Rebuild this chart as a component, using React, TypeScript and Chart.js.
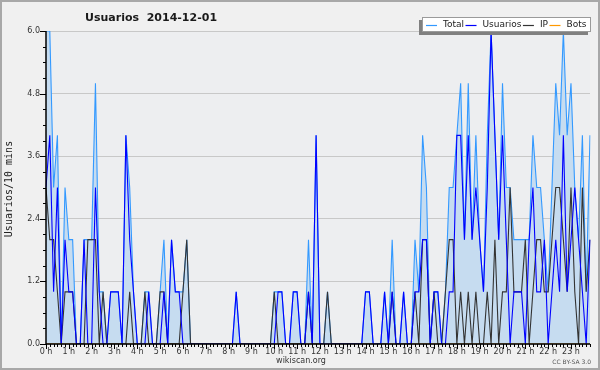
import React, { useEffect, useRef } from "react";
import { Chart, registerables } from "chart.js";

Chart.register(...registerables);

const TITLE = "Usuarios  2014-12-01";
const Y_TITLE = "Usuarios/10 mins";
const X_TITLE = "wikiscan.org";
const LICENSE = "CC BY-SA 3.0";

const HOUR_LABELS = [
  "0 h", "1 h", "2 h", "3 h", "4 h", "5 h", "6 h", "7 h", "8 h", "9 h", "10 h", "11 h",
  "12 h", "13 h", "14 h", "15 h", "16 h", "17 h", "18 h", "19 h", "20 h", "21 h", "22 h", "23 h",
];
const SLOTS_PER_HOUR = 6;

// one category per 10-minute slot
const CATEGORIES: string[] = [];
HOUR_LABELS.forEach((h, hi) => {
  for (let m = 0; m < SLOTS_PER_HOUR; m++) CATEGORIES.push(`${hi}:${m}0`);
});

const TOTAL = [
  6, 6, 3, 4, 0, 3, 2, 2, 0, 0, 2, 2,
  2, 5, 1, 1, 0, 1, 1, 1, 0, 4, 3, 1,
  0, 0, 1, 1, 0, 0, 1, 2, 0, 2, 1, 1,
  1, 2, 0, 0, 0, 0, 0, 0, 0, 0, 0, 0,
  0, 0, 1, 0, 0, 0, 0, 0, 0, 0, 0, 0,
  1, 1, 1, 0, 0, 1, 1, 0, 0, 2, 0, 4,
  0, 0, 1, 0, 0, 0, 0, 0, 0, 0, 0, 0,
  1, 1, 0, 0, 0, 1, 0, 2, 0, 0, 1, 0,
  0, 2, 1, 4, 3, 0, 1, 1, 0, 1, 3, 3,
  4, 5, 2, 5, 2, 4, 2, 1, 4, 6, 4, 2,
  5, 3, 3, 2, 2, 2, 2, 2, 4, 3, 3, 2,
  1, 3, 5, 4, 6, 4, 5, 3, 2, 4, 1, 4,
];

const USUARIOS = [
  3, 4, 1, 3, 0, 2, 1, 1, 0, 0, 2, 0,
  0, 3, 1, 0, 0, 1, 1, 1, 0, 4, 2, 1,
  0, 0, 0, 1, 0, 0, 0, 1, 0, 2, 1, 1,
  0, 0, 0, 0, 0, 0, 0, 0, 0, 0, 0, 0,
  0, 0, 1, 0, 0, 0, 0, 0, 0, 0, 0, 0,
  0, 1, 1, 0, 0, 1, 1, 0, 0, 1, 0, 4,
  0, 0, 0, 0, 0, 0, 0, 0, 0, 0, 0, 0,
  1, 1, 0, 0, 0, 1, 0, 1, 0, 0, 1, 0,
  0, 1, 1, 2, 2, 0, 1, 1, 0, 0, 1, 1,
  4, 4, 2, 4, 2, 3, 2, 1, 3, 6, 4, 2,
  4, 2, 0, 1, 1, 1, 0, 2, 3, 1, 1, 2,
  0, 1, 2, 1, 4, 1, 2, 3, 2, 1, 0, 2,
];

const IP = [
  3, 2, 2, 1, 0, 1, 1, 1, 0, 0, 0, 2,
  2, 2, 0, 1, 0, 0, 0, 0, 0, 0, 1, 0,
  0, 0, 1, 0, 0, 0, 1, 1, 0, 0, 0, 0,
  1, 2, 0, 0, 0, 0, 0, 0, 0, 0, 0, 0,
  0, 0, 0, 0, 0, 0, 0, 0, 0, 0, 0, 0,
  1, 0, 0, 0, 0, 0, 0, 0, 0, 1, 0, 0,
  0, 0, 1, 0, 0, 0, 0, 0, 0, 0, 0, 0,
  0, 0, 0, 0, 0, 0, 0, 1, 0, 0, 0, 0,
  0, 1, 0, 2, 2, 0, 1, 0, 0, 1, 2, 2,
  0, 1, 0, 1, 0, 1, 0, 0, 1, 0, 2, 0,
  1, 1, 3, 1, 1, 1, 2, 0, 1, 2, 2, 1,
  1, 2, 3, 3, 2, 1, 3, 1, 0, 3, 1, 2,
];

const BOTS = [
  0, 0, 0, 0, 0, 0, 0, 0, 0, 0, 0, 0,
  0, 0, 0, 0, 0, 0, 0, 0, 0, 0, 0, 0,
  0, 0, 0, 0, 0, 0, 0, 0, 0, 0, 0, 0,
  0, 0, 0, 0, 0, 0, 0, 0, 0, 0, 0, 0,
  0, 0, 0, 0, 0, 0, 0, 0, 0, 0, 0, 0,
  0, 0, 0, 0, 0, 0, 0, 0, 0, 0, 0, 0,
  0, 0, 0, 0, 0, 0, 0, 0, 0, 0, 0, 0,
  0, 0, 0, 0, 0, 0, 0, 0, 0, 0, 0, 0,
  0, 0, 0, 0, 0, 0, 0, 0, 0, 0, 0, 0,
  0, 0, 0, 0, 0, 0, 0, 0, 0, 0, 0, 0,
  0, 0, 0, 0, 0, 0, 0, 0, 0, 0, 0, 0,
  0, 0, 0, 0, 0, 0, 0, 0, 0, 0, 0, 0,
];

const Y_TICKS = [0, 1.2, 2.4, 3.6, 4.8, 6.0];
const Y_MAX = 6;
const Y_MINOR_STEP = 0.3;

const FONT = "'DejaVu Sans', 'Liberation Sans', sans-serif";

const decorPlugin = {
  id: "decor",
  beforeDraw(chart: any) {
    const { ctx, chartArea: a, width, height } = chart;
    ctx.save();
    ctx.fillStyle = "#f0f0f0";
    ctx.fillRect(0, 0, width, height);
    ctx.fillStyle = "#edeef0";
    ctx.fillRect(a.left, a.top, a.right - a.left, a.bottom - a.top);
    ctx.strokeStyle = "#a8a8a8";
    ctx.lineWidth = 2;
    ctx.strokeRect(1, 1, width - 2, height - 2);
    ctx.restore();
  },
  afterDraw(chart: any) {
    const { ctx, chartArea: a, scales } = chart;
    const xs = scales.x;
    const ys = scales.y;
    ctx.save();

    // axis lines
    ctx.strokeStyle = "#000";
    ctx.lineWidth = 1.5;
    ctx.beginPath();
    ctx.moveTo(a.left, a.top);
    ctx.lineTo(a.left, a.bottom);
    ctx.lineTo(a.right, a.bottom);
    ctx.stroke();

    // y ticks (major at labels, minor between)
    ctx.lineWidth = 1;
    const nMinor = Math.round(Y_MAX / Y_MINOR_STEP);
    for (let k = 0; k <= nMinor; k++) {
      const v = k * Y_MINOR_STEP;
      const py = Math.round(ys.getPixelForValue(v)) + 0.5;
      const major = k % 4 === 0;
      ctx.beginPath();
      ctx.moveTo(a.left - (major ? 6 : 3), py);
      ctx.lineTo(a.left, py);
      ctx.stroke();
    }
    // x ticks every 10 minutes, longer at hours
    for (let i = 0; i < CATEGORIES.length; i++) {
      const px = Math.round(xs.getPixelForValue(i)) + 0.5;
      const major = i % SLOTS_PER_HOUR === 0;
      ctx.beginPath();
      ctx.moveTo(px, a.bottom);
      ctx.lineTo(px, a.bottom + (major ? 5 : 3));
      ctx.stroke();
    }

    // title
    ctx.fillStyle = "#1a1a1a";
    ctx.font = `bold 11px ${FONT}`;
    ctx.textAlign = "left";
    ctx.textBaseline = "alphabetic";
    ctx.fillText(TITLE, 85, 21);

    // y title
    ctx.save();
    ctx.translate(9, 189);
    ctx.rotate(-Math.PI / 2);
    ctx.font = "10px 'DejaVu Sans Mono', monospace";
    ctx.textAlign = "center";
    ctx.textBaseline = "middle";
    ctx.fillStyle = "#222";
    ctx.fillText(Y_TITLE, 0, 0);
    ctx.restore();

    // x title and license
    ctx.fillStyle = "#333";
    ctx.font = `8px ${FONT}`;
    ctx.textAlign = "center";
    ctx.textBaseline = "middle";
    ctx.fillText(X_TITLE, 301, 361);
    ctx.font = `6px ${FONT}`;
    ctx.textAlign = "right";
    ctx.fillStyle = "#555";
    ctx.fillText(LICENSE, 591, 362.5);

    // legend
    const bx = 422, by = 17, bw = 169, bh = 15;
    ctx.fillStyle = "#808080";
    ctx.fillRect(bx - 3, by + 3, bw, bh);
    ctx.fillStyle = "#ffffff";
    ctx.fillRect(bx, by, bw, bh);
    ctx.strokeStyle = "#9a9a9a";
    ctx.lineWidth = 1;
    ctx.strokeRect(bx + 0.5, by + 0.5, bw - 1, bh - 1);
    ctx.font = `9px ${FONT}`;
    ctx.textAlign = "left";
    ctx.textBaseline = "middle";
    let cx = bx + 4;
    const cy = by + bh / 2 + 0.5;
    chart.data.datasets.forEach((ds: any) => {
      ctx.strokeStyle = ds.borderColor;
      ctx.lineWidth = 1.2;
      ctx.beginPath();
      ctx.moveTo(cx, Math.round(cy) + 0.5);
      ctx.lineTo(cx + 11, Math.round(cy) + 0.5);
      ctx.stroke();
      ctx.fillStyle = "#222";
      ctx.fillText(ds.label, cx + 17, cy);
      cx += 17 + ctx.measureText(ds.label).width + 1.5;
    });

    ctx.restore();
  },
};

export default function App() {
  const ref = useRef<HTMLCanvasElement | null>(null);

  useEffect(() => {
    if (!ref.current) return;
    const chart = new Chart(ref.current, {
      type: "line",
      data: {
        labels: CATEGORIES,
        datasets: [
          {
            label: "Total",
            data: TOTAL,
            borderColor: "#3399ff",
            backgroundColor: "#c6dcf0",
            fill: "origin",
            borderWidth: 1.1,
            pointRadius: 0,
            tension: 0,
            order: 4,
          },
          {
            label: "Usuarios",
            data: USUARIOS,
            borderColor: "#0000ff",
            fill: false,
            borderWidth: 1.1,
            pointRadius: 0,
            tension: 0,
            order: 1,
          },
          {
            label: "IP",
            data: IP,
            borderColor: "#333333",
            fill: false,
            borderWidth: 1.1,
            pointRadius: 0,
            tension: 0,
            order: 2,
          },
          {
            label: "Bots",
            data: BOTS,
            borderColor: "#ff9900",
            fill: false,
            borderWidth: 1.1,
            pointRadius: 0,
            tension: 0,
            order: 3,
          },
        ],
      },
      options: {
        responsive: false,
        animation: false,
        devicePixelRatio: 1,
        layout: { padding: { left: 0, right: 10, top: 31, bottom: 0 } },
        plugins: {
          legend: { display: false },
          title: { display: false },
          tooltip: { enabled: false },
        },
        scales: {
          x: {
            type: "category",
            offset: false,
            grid: { display: true, drawOnChartArea: false, drawTicks: false, color: "rgba(0,0,0,0)" },
            border: { display: false },
            ticks: {
              autoSkip: false,
              maxRotation: 0,
              minRotation: 0,
              padding: 3,
              color: "#333",
              font: { family: FONT, size: 8 },
              callback: (_v: any, i: number) =>
                i % SLOTS_PER_HOUR === 0 ? HOUR_LABELS[i / SLOTS_PER_HOUR] : "",
            },
            afterFit: (s: any) => {
              s.height = 26;
            },
          },
          y: {
            min: 0,
            max: Y_MAX,
            grid: { color: "#c8c8c8", lineWidth: 1, drawTicks: false },
            border: { display: false },
            ticks: {
              padding: 6,
              color: "#333",
              font: { family: FONT, size: 8 },
              callback: (v: any) => Number(v).toFixed(1),
            },
            afterBuildTicks: (s: any) => {
              s.ticks = Y_TICKS.map((v) => ({ value: v }));
            },
            afterFit: (s: any) => {
              s.width = 46;
            },
          },
        },
      },
      plugins: [decorPlugin],
    } as any);
    return () => chart.destroy();
  }, []);

  return (
    <div style={{ position: "fixed", left: 0, top: 0, width: 600, height: 370 }}>
      <canvas ref={ref} width={600} height={370} style={{ display: "block" }} />
    </div>
  );
}
